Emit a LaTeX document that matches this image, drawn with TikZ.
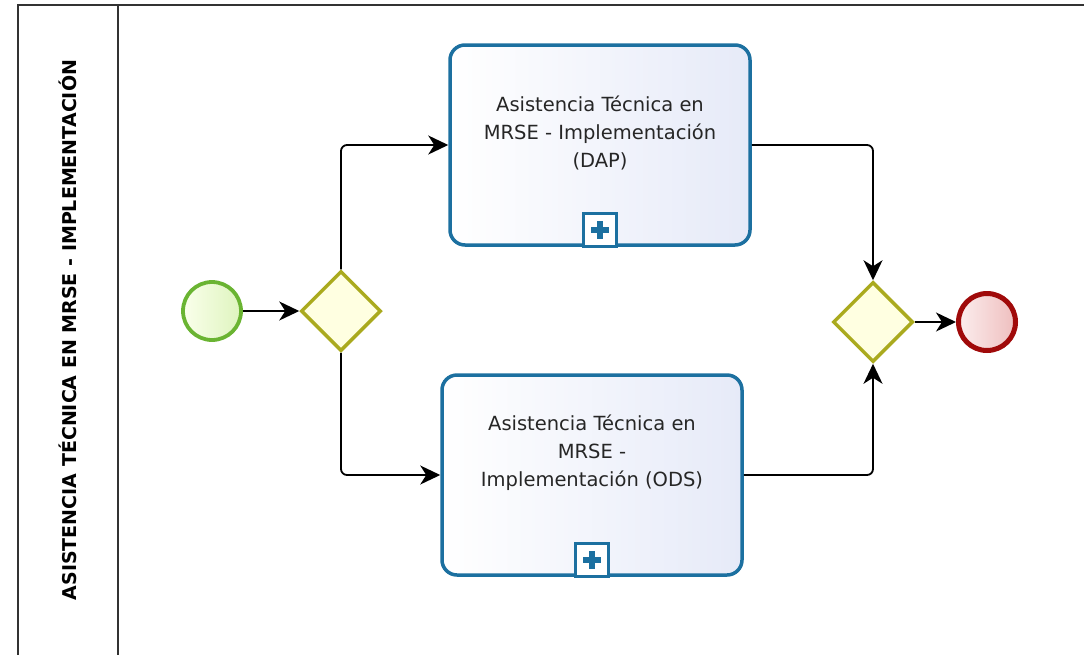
\documentclass[tikz,border=0pt]{standalone}
\usepackage{fontspec}
\setmainfont{DejaVu Sans}
\usetikzlibrary{arrows.meta,shapes.geometric}
\definecolor{taskblue}{RGB}{28,112,160}
\definecolor{taskfillA}{RGB}{255,255,255}
\definecolor{taskfillB}{RGB}{230,234,248}
\definecolor{startgreen}{RGB}{106,180,50}
\definecolor{startfillA}{RGB}{250,255,235}
\definecolor{startfillB}{RGB}{222,244,190}
\definecolor{gwstroke}{RGB}{170,170,30}
\definecolor{gwfill}{RGB}{255,255,225}
\definecolor{endred}{RGB}{160,10,10}
\definecolor{endfillA}{RGB}{252,238,238}
\definecolor{endfillB}{RGB}{238,190,190}
\definecolor{framegray}{RGB}{50,50,50}
\tikzset{
  taskbox/.style={draw=taskblue, line width=3.5pt, rounded corners=15pt,
    minimum width=300pt, minimum height=200pt, inner sep=0pt,
    left color=taskfillA, right color=taskfillB},
  tasktext/.style={align=center, inner sep=0pt,
    font=\fontsize{19.5pt}{28pt}\selectfont, text=black!85},
  startev/.style={circle, draw=startgreen, line width=3.8pt, minimum size=58pt,
    inner sep=0pt, left color=startfillA, right color=startfillB},
  endev/.style={circle, draw=endred, line width=5pt, minimum size=57pt,
    inner sep=0pt, left color=endfillA, right color=endfillB},
  gw/.style={diamond, draw=gwstroke, line width=3.5pt, minimum width=80pt,
    minimum height=80pt, inner sep=0pt, fill=gwfill, aspect=1},
  flow/.style={draw=black, line width=1.8pt, rounded corners=6pt,
    -{Stealth[length=20pt,width=19pt,inset=6pt]}},
  plusbox/.style={draw=taskblue, line width=3.2pt, fill=white,
    minimum size=33pt, inner sep=0pt},
  lanelabel/.style={rotate=90, font=\bfseries\fontsize{19pt}{22pt}\selectfont, text=black}
}
\begin{document}
\begin{tikzpicture}[x=1pt,y=-1pt]
\useasboundingbox (0,0) rectangle (1084,654);
% pool frame
\draw[framegray, line width=2.2pt] (18,660) -- (18,5) -- (1090,5);
\draw[framegray, line width=2.2pt] (118,5) -- (118,660);
\node[lanelabel] (lane) at (68,330) {ASISTENCIA TÉCNICA EN MRSE - IMPLEMENTACIÓN};
% nodes
\node[startev] (start) at (212,311) {};
\node[gw] (g1) at (341,311) {};
\node[taskbox] (t1) at (600,145) {};
\node[tasktext] (t1txt) at (600,133) {Asistencia Técnica en\\MRSE - Implementación\\(DAP)};
\node[taskbox] (t2) at (592,475) {};
\node[tasktext] (t2txt) at (592,453) {Asistencia Técnica en\\MRSE -\\Implementación (ODS)};
\node[gw] (g2) at (873,322) {};
\node[endev] (end) at (987,322) {};
% subprocess markers
\node[plusbox, anchor=south] (p1) at ([yshift=-1pt]t1.south) {};
\node[plusbox, anchor=south] (p2) at ([yshift=-1pt]t2.south) {};
\foreach \p in {p1,p2}{
  \fill[taskblue] ([xshift=-9pt,yshift=-3pt]\p.center) rectangle ([xshift=9pt,yshift=3pt]\p.center);
  \fill[taskblue] ([xshift=-3pt,yshift=-9pt]\p.center) rectangle ([xshift=3pt,yshift=9pt]\p.center);
}
% flows
\draw[flow] (start.east) -- (g1.west);
\draw[flow] (g1.north) |- (t1.west);
\draw[flow] (g1.south) |- (t2.west);
\draw[flow] (t1.east) -| (g2.north);
\draw[flow] (t2.east) -| (g2.south);
\draw[flow] (g2.east) -- (end.west);
\end{tikzpicture}
\end{document}
